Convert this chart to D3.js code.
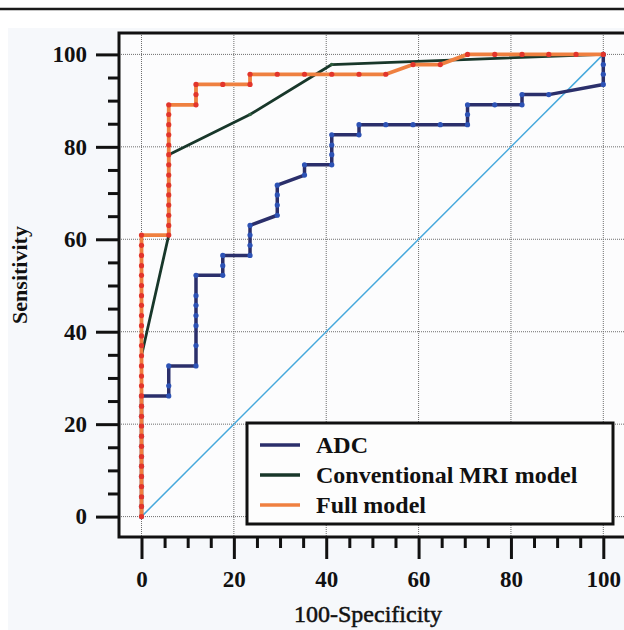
<!DOCTYPE html>
<html>
  <head>
    <script src="https://d3js.org/d3.v7.min.js"></script>
    <style>
      body {margin: 0; background: #fff;}
      text {font-family: "Liberation Serif", "Times New Roman", serif; fill: #111;}
      .grid line {stroke: #6e6e6e; stroke-width: 1; stroke-dasharray: 1,1;}
      .axis text {font-size: 23px; font-weight: bold;}
      .axis line {stroke: #111; stroke-width: 3;}
      .axis path {display: none;}
    </style>
  </head>
  <body>
    <svg id="chart" width="624" height="630"></svg>
  </body>
  <script>
      // ROC points, [100-specificity, sensitivity] in percent
      let adcPoints = [
          [0,0],[0,2.2],[0,4.3],[0,6.5],[0,8.7],[0,10.9],[0,13.0],[0,15.2],[0,17.4],[0,19.6],[0,21.7],[0,23.9],[0,26.1],
          [5.9,26.1],[5.9,28.3],[5.9,32.6],
          [11.8,32.6],[11.8,37.0],[11.8,41.3],[11.8,43.5],[11.8,45.7],[11.8,47.8],[11.8,52.2],
          [17.6,52.2],[17.6,54.3],[17.6,56.5],
          [23.5,56.5],[23.5,58.7],[23.5,60.9],[23.5,63.0],
          [29.4,65.2],[29.4,67.4],[29.4,69.6],[29.4,71.7],
          [35.3,73.9],[35.3,76.1],
          [41.2,76.1],[41.2,78.3],[41.2,80.4],[41.2,82.6],
          [47.1,82.6],[47.1,84.8],
          [52.9,84.8],[58.8,84.8],[64.7,84.8],[70.6,84.8],[70.6,87.0],[70.6,89.1],
          [76.5,89.1],[82.4,89.1],[82.4,91.3],
          [88.2,91.3],[100,93.5],[100,95.7],[100,97.8],[100,100]
      ];
      let convPoints = [
          [0,0],[0,34.8],[5.9,60.9],[5.9,78.3],[23.5,87.0],[41.2,97.8],[100,100]
      ];
      let fullPoints = [
          [0,0],[0,2.2],[0,4.3],[0,6.5],[0,8.7],[0,10.9],[0,13.0],[0,15.2],[0,17.4],[0,19.6],[0,21.7],[0,23.9],[0,26.1],
          [0,28.3],[0,30.4],[0,32.6],[0,34.8],[0,37.0],[0,39.1],[0,41.3],[0,43.5],[0,45.7],[0,47.8],[0,50.0],[0,52.2],
          [0,54.3],[0,56.5],[0,58.7],[0,60.9],
          [5.9,60.9],[5.9,63.0],[5.9,65.2],[5.9,67.4],[5.9,69.6],[5.9,71.7],[5.9,73.9],[5.9,76.1],[5.9,78.3],
          [5.9,80.4],[5.9,82.6],[5.9,84.8],[5.9,87.0],[5.9,89.1],
          [11.8,89.1],[11.8,91.3],[11.8,93.5],
          [17.6,93.5],[23.5,93.5],[23.5,95.7],
          [29.4,95.7],[35.3,95.7],[41.2,95.7],[47.1,95.7],[52.9,95.7],
          [58.8,97.8],[64.7,97.8],
          [70.6,100],[76.5,100],[82.4,100],[88.2,100],[94.1,100],[100,100]
      ];
      let majorTicks = [0, 20, 40, 60, 80, 100];
      let minorTicks = d3.range(0, 101, 5).filter(d => d % 20 !== 0);
      let legendLabels = ["ADC", "Conventional MRI model", "Full model"];

      let svg = d3.select("#chart");
      let frame = {left: 119, top: 33, bottom: 537, right: 626};

      let x = d3.scaleLinear().domain([0, 100]).range([141.5, 603.3]);
      let y = d3.scaleLinear().domain([0, 100]).range([516.6, 54.4]);

      // page: white strip with rule, tinted figure area
      svg.append("rect").attr("x", 0).attr("y", 0).attr("width", 624).attr("height", 630).attr("fill", "#fff");
      svg.append("line").attr("x1", 0).attr("x2", 624).attr("y1", 9).attr("y2", 9)
          .attr("stroke", "#1a1a1a").attr("stroke-width", 2.5);
      svg.append("rect").attr("x", 8).attr("y", 28).attr("width", 616).attr("height", 602).attr("fill", "#f6f8fb");
      svg.append("rect").attr("x", frame.left).attr("y", frame.top)
          .attr("width", frame.right - frame.left).attr("height", frame.bottom - frame.top).attr("fill", "#fcfcfd");

      // grid
      let grid = svg.append("g").attr("class", "grid");
      grid.selectAll("line.v").data(majorTicks).enter().append("line").attr("class", "v")
          .attr("x1", d => x(d)).attr("x2", d => x(d)).attr("y1", frame.top).attr("y2", frame.bottom);
      grid.selectAll("line.h").data(majorTicks).enter().append("line").attr("class", "h")
          .attr("x1", frame.left).attr("x2", frame.right).attr("y1", d => y(d)).attr("y2", d => y(d));

      // axes
      svg.append("g").attr("class", "axis").attr("transform", `translate(${frame.left},0)`)
          .call(d3.axisLeft(y).tickValues(majorTicks).tickSize(23).tickPadding(9));
      svg.append("g").attr("class", "axis").attr("transform", `translate(${frame.left},0)`)
          .call(d3.axisLeft(y).tickValues(minorTicks).tickSize(11).tickFormat(""));
      svg.append("g").attr("class", "axis").attr("transform", `translate(0,${frame.bottom})`)
          .call(d3.axisBottom(x).tickValues(majorTicks).tickSize(22).tickPadding(12));
      svg.append("g").attr("class", "axis").attr("transform", `translate(0,${frame.bottom})`)
          .call(d3.axisBottom(x).tickValues(minorTicks).tickSize(11).tickFormat(""));

      // reference diagonal
      svg.append("line").attr("x1", x(0)).attr("y1", y(0)).attr("x2", x(100)).attr("y2", y(100))
          .attr("stroke", "#45a8dc").attr("stroke-width", 1.5);

      let line = d3.line().x(d => x(d[0])).y(d => y(d[1]));
      let series = [
          {pts: adcPoints, stroke: "#2b2f6b", dot: "#2d52b5", w: 3.5, r: 2.6},
          {pts: convPoints, stroke: "#18372a", dot: "#2e5e3e", w: 2.8, r: 1.8},
          {pts: fullPoints, stroke: "#ef8040", dot: "#e2352c", w: 3.8, r: 2.6}
      ];
      series.forEach(s => {
          let g = svg.append("g");
          g.append("path").datum(s.pts).attr("d", line).attr("fill", "none")
              .attr("stroke", s.stroke).attr("stroke-width", s.w).attr("stroke-linejoin", "round");
          g.selectAll("circle").data(s.pts).enter().append("circle")
              .attr("cx", d => x(d[0])).attr("cy", d => y(d[1])).attr("r", s.r).attr("fill", s.dot);
      });

      // frame
      svg.append("path").attr("d", `M${frame.right},${frame.top}H${frame.left}V${frame.bottom}H${frame.right}`)
          .attr("fill", "none").attr("stroke", "#111").attr("stroke-width", 3);

      // legend
      let legend = svg.append("g");
      legend.append("rect").attr("x", 247).attr("y", 423).attr("width", 366).attr("height", 101)
          .attr("fill", "#fdfdfd").attr("stroke", "#111").attr("stroke-width", 3);
      legendLabels.forEach((label, i) => {
          let ly = 445 + i * 30;
          legend.append("line").attr("x1", 260).attr("x2", 300).attr("y1", ly).attr("y2", ly)
              .attr("stroke", series[i].stroke).attr("stroke-width", 3.5);
          legend.append("text").attr("x", 316).attr("y", ly + 7.5).text(label)
              .style("font-size", "24px").style("font-weight", "bold");
      });

      // titles
      svg.append("text").attr("x", 368).attr("y", 622).attr("text-anchor", "middle")
          .style("font-size", "24px").attr("stroke", "#111").attr("stroke-width", 0.5).text("100-Specificity");
      svg.append("text").attr("transform", "translate(27,275) rotate(-90)").attr("text-anchor", "middle")
          .style("font-size", "22px").style("font-weight", "bold").text("Sensitivity");
  </script>
</html>
